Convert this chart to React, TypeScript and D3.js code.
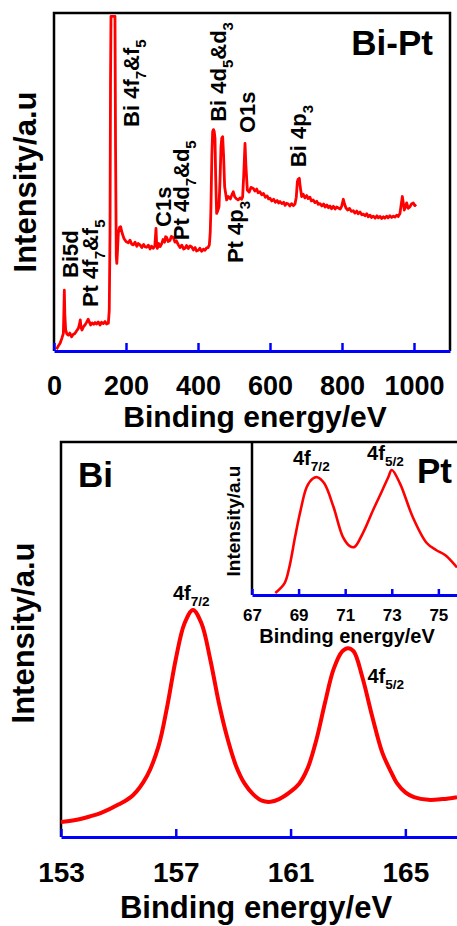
import * as d3 from "d3";
import { useEffect, useRef } from "react";

const FONT = "'Liberation Sans', Arial, Helvetica, sans-serif";
const RED = "#ff0000";
const BLUE = "#0000ff";

// survey spectrum (binding energy eV, intensity a.u. 0-100)
const surveyTicks = [0, 200, 400, 600, 800, 1000];
const surveyPoints: [number, number][] = [
  [7, 0.5], [12, 1.5], [17, 2.3], [22, 3.8], [26, 5.2], [27.5, 12], [28.7, 18], [30, 11], [32.4, 6.2],
  [36, 5.0], [40, 4.7], [44, 5.3], [49, 4.2], [53, 4.9], [58, 5.2], [63, 6.0], [67.6, 6.7], [71, 8.0],
  [73, 9.2], [75, 7.0], [77.8, 6.2], [82, 7.2], [86, 7.7], [90, 8.4], [95, 9.4], [98, 8.6], [101.8, 7.7],
  [106, 8.3], [110, 7.9], [114, 8.4], [118, 8.0], [123, 8.6], [127.8, 7.7], [132, 8.5], [137, 8.1],
  [141.7, 8.7], [146, 8.0], [150.9, 8.2], [153.5, 12], [155.6, 35], [157, 80], [158.3, 99], [160, 99],
  [163, 99], [166, 99], [169.4, 99], [171, 60], [173, 28], [174.5, 25.9], [176.5, 30], [178.7, 34.9],
  [182, 36.5], [185, 36.8], [189, 35], [194.4, 33.3], [200, 32.4], [206.5, 32], [211, 32.8], [216, 31.6],
  [220.4, 31.4], [225, 32.2], [230, 31.0], [234, 31.8], [238.9, 31.4], [244, 30.6], [249, 31.5],
  [253, 30.8], [257.4, 30.7], [262, 31.3], [267, 30.2], [271, 31.0], [275.9, 30.4], [280, 31.0],
  [282, 34], [283.3, 36.3], [285, 32], [287, 30.4], [291, 31.8], [295, 30.9], [299, 31.7], [303, 33.0],
  [307, 32.2], [310, 33.8], [313, 33.6], [317, 32.4], [322, 32.7], [326, 33.9], [331.5, 33.6],
  [336, 32.2], [340, 32.6], [345.4, 31.4], [350, 30.6], [355, 31.3], [360, 30.2], [364, 30.4],
  [368, 31.2], [373, 30.3], [378, 31.1], [382.4, 30.8], [387, 29.9], [392, 30.6], [396, 29.6],
  [400.9, 29.8], [405, 30.4], [410, 29.5], [415, 30.1], [419.4, 29.8], [424, 30.5], [428, 30.6],
  [431.5, 31.4], [434, 35], [436, 42.7], [438.5, 58], [440.7, 64.9], [443, 65.5], [445, 65], [447.2, 63],
  [449, 52], [451.8, 40.7], [455, 41.5], [458.3, 42.7], [461, 50], [463.9, 60.4], [466, 63], [468.5, 63.4],
  [471, 58], [474, 48.6], [479.6, 44.7], [484, 45.7], [490, 45.0], [494, 46.2], [498, 47.1], [502, 45.6],
  [507, 45.0], [512, 44.7], [517, 45.3], [521, 44.9], [524, 45.6], [527, 52], [530.6, 61.4], [533, 55],
  [537, 47.6], [542, 47.0], [547, 48.4], [553.7, 48.1], [558, 47.3], [563, 47.9], [567, 46.8], [572, 47.1],
  [577, 46.2], [582, 46.6], [587, 45.5], [592, 45.9], [596, 45.0], [600, 45.2], [605, 44.4], [610, 44.9],
  [615, 44.0], [620, 44.5], [624, 43.8], [627.8, 44.2], [633, 43.6], [638, 44.0], [642, 43.1], [646, 43.7],
  [650.9, 43.5], [655, 42.9], [660, 43.6], [665, 43.0], [669.4, 43.5], [673, 45.5], [676, 50.1],
  [678, 50.8], [681.5, 51.1], [684, 48.5], [688, 45.7], [692, 46.4], [697, 45.3], [702, 46], [706, 45.1],
  [711, 45.5], [715, 44.4], [720, 44.7], [725, 43.9], [730, 44.3], [734, 43.4], [739, 43.6], [744, 42.9],
  [749, 43.5], [753, 42.6], [758, 43.2], [762, 42.4], [766.7, 42.9], [771, 42.1], [776, 42.8], [781, 42.0],
  [785, 42.6], [790, 42.3], [795, 42.0], [799, 42.8], [803.7, 44.9], [807, 43.5], [811, 42.3], [816, 41.7],
  [821, 42.2], [826, 41.3], [831.5, 41.5], [836, 40.8], [841, 41.4], [845, 40.6], [850, 41.1], [855, 40.3],
  [859, 40.5], [864, 40.0], [869, 40.6], [873, 39.7], [878, 40.2], [882, 39.5], [887, 39.9], [892, 39.3],
  [897, 40.0], [901, 39.4], [906, 39.8], [910, 39.2], [914.8, 39.7], [919, 39.3], [924, 39.9], [928, 39.4],
  [933, 40.0], [938, 39.5], [942.6, 39.9], [947, 39.6], [952, 40.2], [956, 39.8], [961, 40.7], [964, 43],
  [967.6, 45.7], [970, 44], [973, 41.7], [976, 42.5], [979.6, 43.8], [984, 42.2], [988.9, 42.7],
  [993, 43.5], [998, 43.8], [1002, 43.0], [1005.6, 43.4],
];

type Part = [string, boolean];
// peak labels: text pieces (true = subscript) and anchor in data units
const surveyLabels: { parts: Part[]; energy: number; intensity: number }[] = [
  { parts: [["Bi5d", false]], energy: 66.7, intensity: 21.6 },
  { parts: [["Pt 4f", false], ["7", true], ["&f", false], ["5", true]], energy: 122, intensity: 13 },
  { parts: [["Bi 4f", false], ["7", true], ["&f", false], ["5", true]], energy: 236, intensity: 66.3 },
  { parts: [["C1s", false]], energy: 325, intensity: 36.7 },
  { parts: [["Pt 4d", false], ["7", true], ["&d", false], ["5", true]], energy: 375, intensity: 32.8 },
  { parts: [["Bi 4d", false], ["5", true], ["&d", false], ["3", true]], energy: 478, intensity: 67.8 },
  { parts: [["Pt 4p", false], ["3", true]], energy: 525, intensity: 26 },
  { parts: [["O1s", false]], energy: 558, intensity: 64.5 },
  { parts: [["Bi 4p", false], ["3", true]], energy: 700, intensity: 54.4 },
];

// Bi 4f high-resolution spectrum
const biTicks = [153, 157, 161, 165];
const biPoints: [number, number][] = [
  [153.0, 3.8], [153.5, 4.3], [154.0, 5.2], [154.4, 6.1], [155.0, 8.2], [155.5, 10.5], [156.0, 15.5],
  [156.4, 23], [156.7, 33], [157.0, 45], [157.3, 54], [157.6, 57.5], [157.9, 54], [158.2, 45], [158.5, 34],
  [158.8, 25], [159.1, 18], [159.4, 13.5], [159.7, 10.8], [160.0, 9.2], [160.3, 8.9], [160.6, 9.6],
  [161.0, 11.5], [161.3, 13.5], [161.6, 17.5], [161.9, 24.6], [162.2, 34], [162.5, 42.5], [162.8, 47],
  [163.0, 47.8], [163.2, 47], [163.5, 40.5], [163.85, 30.4], [164.2, 21.3], [164.5, 16.5], [164.7, 13.7],
  [165.0, 11.3], [165.3, 10.1], [165.8, 9.4], [166.3, 9.6], [166.8, 10.1],
];
const biLabels: { parts: Part[]; energy: number; intensity: number }[] = [
  { parts: [["4f", false], ["7/2", true]], energy: 156.9, intensity: 60 },
  { parts: [["4f", false], ["5/2", true]], energy: 163.68, intensity: 39 },
];

// Pt 4f inset spectrum
const ptTicks = [67, 69, 71, 73, 75];
const ptPoints: [number, number][] = [
  [68.0, 1.3], [68.4, 7.8], [68.6, 18], [68.85, 38], [69.06, 53.6], [69.35, 70.6], [69.6, 76], [69.8, 77],
  [70.1, 73], [70.5, 57.5], [70.9, 38], [71.2, 32], [71.4, 31.4], [71.76, 40.5], [72.2, 55.6],
  [72.6, 68.6], [72.85, 77], [73.0, 81.7], [73.35, 73], [73.9, 51], [74.5, 34], [74.9, 29.4],
  [75.3, 26], [75.8, 18],
];
const ptLabels: { parts: Part[]; energy: number; intensity: number }[] = [
  { parts: [["4f", false], ["7/2", true]], energy: 68.76, intensity: 85 },
  { parts: [["4f", false], ["5/2", true]], energy: 71.94, intensity: 88.2 },
];

function richText(g, x, y, parts: Part[], size: number, rotate = false, anchor = "start") {
  const t = g
    .append("text")
    .attr("transform", `translate(${x},${y})${rotate ? " rotate(-90)" : ""}`)
    .attr("font-family", FONT)
    .attr("font-weight", "bold")
    .attr("font-size", size)
    .attr("text-anchor", anchor)
    .attr("fill", "#000");
  let shift = 0;
  parts.forEach(([s, sub]) => {
    const want = sub ? size * 0.3 : 0;
    t.append("tspan")
      .attr("dy", want - shift)
      .attr("font-size", sub ? size * 0.68 : size)
      .text(s);
    shift = want;
  });
}

function drawAxis(g, x, y0, ticks, tickLen, labelSize, labelY) {
  const ax = g
    .append("g")
    .attr("transform", `translate(0,${y0})`)
    .call(d3.axisBottom(x).tickValues(ticks).tickSizeInner(-tickLen).tickSizeOuter(0).tickFormat(d3.format("d")));
  ax.select(".domain").attr("stroke", BLUE).attr("stroke-width", 3);
  ax.selectAll(".tick line").attr("stroke", BLUE).attr("stroke-width", 2.5);
  ax.selectAll(".tick text")
    .attr("y", labelY)
    .attr("dy", 0)
    .attr("fill", "#000")
    .attr("font-family", FONT)
    .attr("font-weight", "bold")
    .attr("font-size", labelSize);
}

function drawFigure(svgElement) {
  const svg = d3.select(svgElement);
  svg.selectAll("*").remove();
  const line = (x, y) =>
    d3
      .line<[number, number]>()
      .x((d) => x(d[0]))
      .y((d) => y(d[1]));

  // ---- survey panel
  const top = { left: 54, right: 450, top: 13, bottom: 351 };
  const xs = d3.scaleLinear().domain([0, 1100]).range([top.left, top.right]);
  const ys = d3.scaleLinear().domain([0, 100]).range([top.bottom, top.top]);
  const g1 = svg.append("g");
  g1.append("path")
    .attr("d", `M${top.left},${top.bottom}V${top.top}H${top.right}V${top.bottom}`)
    .attr("fill", "none")
    .attr("stroke", "#000")
    .attr("stroke-width", 2.5);
  g1.append("path")
    .datum(surveyPoints)
    .attr("d", line(xs, ys))
    .attr("fill", "none")
    .attr("stroke", RED)
    .attr("stroke-width", 2.8)
    .attr("stroke-linejoin", "round");
  drawAxis(g1, xs, top.bottom, surveyTicks, 8, 27, 44);
  surveyLabels.forEach((l) => richText(g1, xs(l.energy), ys(l.intensity), l.parts, 22, true));
  richText(g1, 433, 55, [["Bi-Pt", false]], 35, false, "end");
  richText(g1, 36, 182, [["Intensity/a.u", false]], 31, true, "middle");
  richText(g1, 255, 427, [["Binding energy/eV", false]], 30, false, "middle");

  // ---- Bi 4f panel
  const bot = { left: 61, right: 457, top: 442, bottom: 837 };
  const xb = d3.scaleLinear().domain([153, 166.8]).range([bot.left, bot.right]);
  const yb = d3.scaleLinear().domain([0, 100]).range([bot.bottom, bot.top]);
  const g2 = svg.append("g");
  g2.append("path")
    .attr("d", `M${bot.left},${bot.bottom}V${bot.top}H${bot.right + 2}`)
    .attr("fill", "none")
    .attr("stroke", "#000")
    .attr("stroke-width", 2.5);
  g2.append("path")
    .datum(biPoints)
    .attr("d", line(xb, yb).curve(d3.curveCatmullRom))
    .attr("fill", "none")
    .attr("stroke", RED)
    .attr("stroke-width", 4);
  drawAxis(g2, xb, bot.bottom, biTicks, 8, 28, 45);
  biLabels.forEach((l) => richText(g2, xb(l.energy), yb(l.intensity), l.parts, 20));
  richText(g2, 78, 487, [["Bi", false]], 35);
  richText(g2, 34, 633, [["Intensity/a.u", false]], 31, true, "middle");
  richText(g2, 256, 918, [["Binding energy/eV", false]], 31, false, "middle");

  // ---- Pt 4f inset
  const ins = { left: 252, right: 457, top: 442, bottom: 595 };
  const xi = d3.scaleLinear().domain([67, 75.8]).range([ins.left, ins.right]);
  const yi = d3.scaleLinear().domain([0, 100]).range([ins.bottom, ins.top]);
  const g3 = svg.append("g");
  g3.append("path")
    .attr("d", `M${ins.left},${ins.bottom}V${ins.top}`)
    .attr("fill", "none")
    .attr("stroke", "#000")
    .attr("stroke-width", 2.5);
  g3.append("path")
    .datum(ptPoints)
    .attr("d", line(xi, yi).curve(d3.curveCatmullRom))
    .attr("fill", "none")
    .attr("stroke", RED)
    .attr("stroke-width", 2.6);
  drawAxis(g3, xi, ins.bottom, ptTicks, 6, 17, 26);
  ptLabels.forEach((l) => richText(g3, xi(l.energy), yi(l.intensity), l.parts, 20));
  richText(g3, 417, 483, [["Pt", false]], 35);
  richText(g3, 240, 521, [["Intensity/a.u", false]], 19, true, "middle");
  richText(g3, 347, 643, [["Binding energy/eV", false]], 20, false, "middle");
}

export default function App() {
  const svgRef = useRef(null);

  useEffect(() => {
    drawFigure(svgRef.current);
  }, []);

  return (
    <svg
      ref={svgRef}
      width={457}
      height={926}
      viewBox="0 0 457 926"
      style={{ position: "absolute", left: 0, top: 0, background: "#fff" }}
      role="img"
      aria-label="XPS spectra of Bi-Pt"
    />
  );
}
